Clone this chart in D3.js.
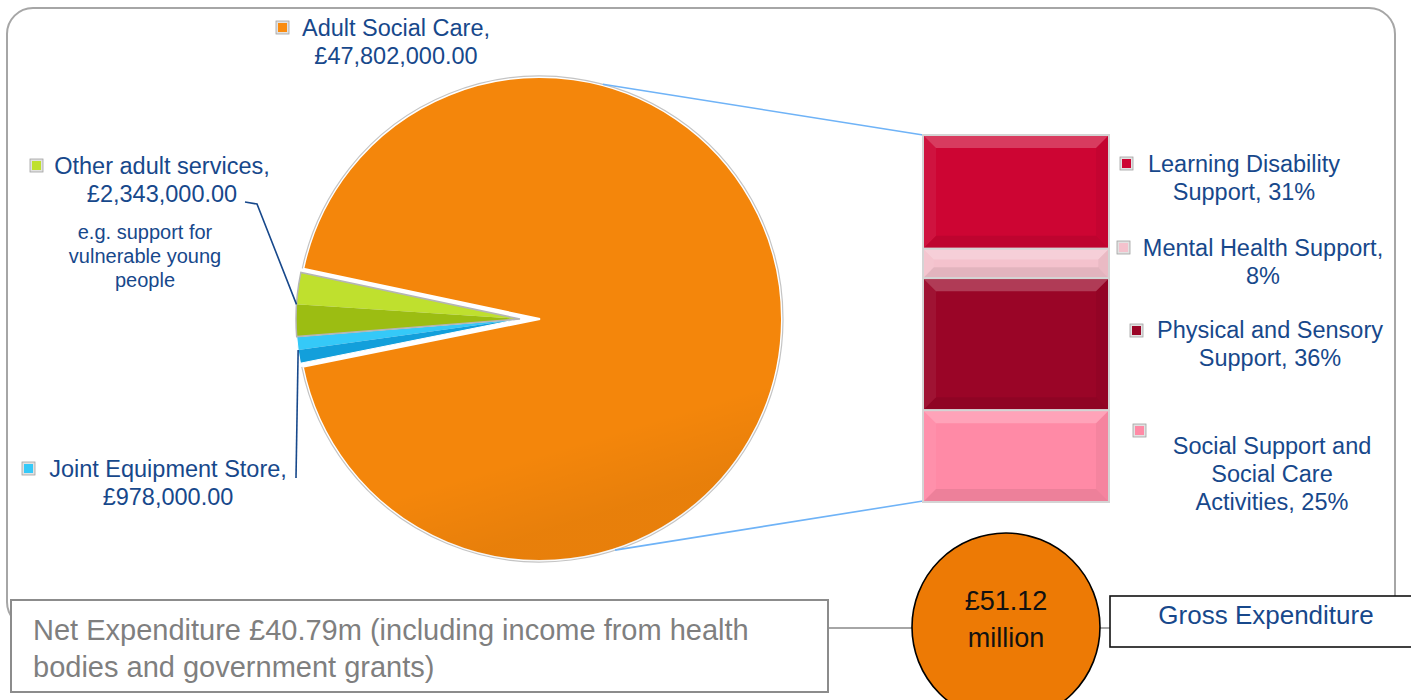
<!DOCTYPE html>
<html>
<head>
<meta charset="utf-8">
<script src="https://cdn.jsdelivr.net/npm/d3@7"></script>
<style>
  body { margin: 0; background: #fff; }
  text { font-family: "Liberation Sans", Arial, sans-serif; }
</style>
</head>
<body>
<svg id="chart" width="1411" height="700"></svg>
<script>
// pie data (drawn clockwise in this order)
var pieCats = ["Adult Social Care", "Joint Equipment Store", "Other adult services"];
var pieValues = [47802000, 978000, 2343000];
var pieNote = ["e.g. support for", "vulnerable young", "people"];

// breakdown of Adult Social Care
var barCats = ["Learning Disability Support", "Mental Health Support",
               "Physical and Sensory Support", "Social Support and Social Care Activities"];
var barShares = [31, 8, 36, 25];
var barWrap = [[2, 2], [3, 1], [3, 2], [3, 2, 2]];   // words per line

var netLines = ["Net Expenditure £40.79m (including income from health",
                "bodies and government grants)"];
var grossLabel = "Gross Expenditure";

// colours
var pieLight = ["#FA8C10", "#35C9F8", "#BFE02E"]
  , pieDark  = ["#F28208", "#129FDB", "#9CBD12"]
  , barColors = ["#CD0533", "#F4C2CD", "#9A0527", "#FF8AA6"]
  , textBlue = "#17488B";

var svg = d3.select("#chart");
var defs = svg.append("defs");

// outer frame
svg.append("rect")
    .attr("x", 7).attr("y", 8).attr("width", 1388).attr("height", 620)
    .attr("rx", 26)
    .attr("fill", "none").attr("stroke", "#a6a6a6").attr("stroke-width", 2);

// ---------- pie ----------
var cx = 540, cy = 319, r = 242;
var a0 = 282 * Math.PI / 180;
var pie = d3.pie().sort(null).startAngle(a0).endAngle(a0 + 2 * Math.PI);
var slices = pie(pieValues);

var rg = defs.append("radialGradient").attr("id", "orangeFill")
    .attr("gradientUnits", "userSpaceOnUse")
    .attr("cx", cx).attr("cy", cy).attr("r", r);
rg.append("stop").attr("offset", 0).attr("stop-color", "#FB8E12");
rg.append("stop").attr("offset", 0.9).attr("stop-color", "#FA8B0F");
rg.append("stop").attr("offset", 1).attr("stop-color", "#F4860B");

var sheen = defs.append("linearGradient").attr("id", "sheen")
    .attr("x1", 0).attr("y1", 0).attr("x2", 0.3).attr("y2", 1);
sheen.append("stop").attr("offset", 0).attr("stop-color", "#fff").attr("stop-opacity", 0.45);
sheen.append("stop").attr("offset", 0.05).attr("stop-color", "#fff").attr("stop-opacity", 0);
sheen.append("stop").attr("offset", 0.85).attr("stop-color", "#000").attr("stop-opacity", 0);
sheen.append("stop").attr("offset", 1).attr("stop-color", "#000").attr("stop-opacity", 0.05);

var gPie = svg.append("g");

// main slice
var arcMain = d3.arc().innerRadius(0).outerRadius(r);
gPie.append("path")
    .attr("transform", "translate(" + cx + "," + cy + ")")
    .attr("d", arcMain(slices[0]))
    .attr("fill", "url(#orangeFill)")
    .attr("stroke", "#fff").attr("stroke-width", 2);
gPie.append("path")
    .attr("transform", "translate(" + cx + "," + cy + ")")
    .attr("d", arcMain(slices[0]))
    .attr("fill", "url(#sheen)");
gPie.append("path")
    .attr("transform", "translate(" + cx + "," + cy + ")")
    .attr("d", d3.arc().innerRadius(r + 1).outerRadius(r + 1)
        .startAngle(slices[0].startAngle).endAngle(slices[0].endAngle)())
    .attr("fill", "none").attr("stroke", "#c4c4c4").attr("stroke-width", 1.2);

// small slices, pulled out from the centre, two-tone bevel
var sx = cx - 20, sr = r - 18;
var arcSmall = d3.arc().innerRadius(0).outerRadius(sr);
[1, 2].forEach(function(i) {
  var s = slices[i], mid = (s.startAngle + s.endAngle) / 2;
  var g = gPie.append("g").attr("transform", "translate(" + sx + "," + cy + ")");
  g.append("path").attr("d", arcSmall({startAngle: mid, endAngle: s.endAngle}))
      .attr("fill", pieLight[i]);
  g.append("path").attr("d", arcSmall({startAngle: s.startAngle, endAngle: mid}))
      .attr("fill", pieDark[i]);
  g.append("path").attr("d", arcSmall(s))
      .attr("fill", "none").attr("stroke", i == 2 ? "#b5b5b5" : "#fff")
      .attr("stroke-width", i == 2 ? 1.5 : 1);
});

// connector lines from pie to the bar
[15, 162].forEach(function(deg, k) {
  var p = d3.pointRadial(deg * Math.PI / 180, r + 1);
  svg.append("line")
      .attr("x1", cx + p[0]).attr("y1", cy + p[1])
      .attr("x2", 923).attr("y2", k == 0 ? 135 : 501)
      .attr("stroke", "#6FB3F7").attr("stroke-width", 1.6);
});

// ---------- legend markers ----------
function marker(x, y, color) {
  var g = svg.append("g").attr("transform", "translate(" + x + "," + y + ")");
  g.append("rect").attr("width", 13).attr("height", 13)
      .attr("fill", "#e2e2e2").attr("stroke", "#a0a0a0").attr("stroke-width", 0.8);
  g.append("rect").attr("x", 2).attr("y", 2).attr("width", 9).attr("height", 9)
      .attr("fill", color);
}

function label(lines, x, y, lh, size) {
  var t = svg.append("text").attr("text-anchor", "middle")
      .attr("fill", textBlue).style("font-size", size + "px");
  lines.forEach(function(l, i) {
    t.append("tspan").attr("x", x).attr("y", y + i * lh).text(l);
  });
}

var money = d3.format(",.2f");
var pieLabelPos = [
  {mx: 276, my: 21, x: 396, y: 36},
  {mx: 22, my: 462, x: 168, y: 477},
  {mx: 30, my: 159, x: 162, y: 174}
];
pieCats.forEach(function(c, i) {
  var p = pieLabelPos[i];
  marker(p.mx, p.my, pieLight[i]);
  label([c + ",", "£" + money(pieValues[i])], p.x, p.y, 28, 23.5);
});
label(pieNote, 145, 239, 24, 20);

// leader lines
(function() {
  var s = slices[2], m = (s.startAngle + s.endAngle) / 2;
  var p = d3.pointRadial(m, sr);
  svg.append("path")
      .attr("d", "M245,202 L257,204 L" + (sx + p[0]) + "," + (cy + p[1]))
      .attr("fill", "none").attr("stroke", textBlue).attr("stroke-width", 1.6);
  s = slices[1]; m = (s.startAngle + s.endAngle) / 2;
  p = d3.pointRadial(m, sr);
  svg.append("path")
      .attr("d", "M" + (sx + p[0]) + "," + (cy + p[1]) + " L296,478")
      .attr("fill", "none").attr("stroke", textBlue).attr("stroke-width", 1.6);
})();

// ---------- stacked bar ----------
var y = d3.scaleLinear().domain([0, 100]).range([135, 502]);
var bx0 = 923, bx1 = 1109;
var cum = d3.cumsum(barShares);
var gBar = svg.append("g");
barShares.forEach(function(v, i) {
  var y0 = y(cum[i] - v), y1 = y(cum[i]);
  var b = Math.min(12, (y1 - y0) / 3);
  var g = gBar.append("g");
  g.append("rect").attr("x", bx0).attr("y", y0)
      .attr("width", bx1 - bx0).attr("height", y1 - y0)
      .attr("fill", barColors[i]).attr("stroke", "#d4d4d4").attr("stroke-width", 2);
  var X0 = bx0 + 1, X1 = bx1 - 1, Y0 = y0 + 1, Y1 = y1 - 1;
  var bev = [
    [[X0, Y0], [X1, Y0], [X1 - b, Y0 + b], [X0 + b, Y0 + b], "#fff", 0.22],
    [[X0, Y0], [X0 + b, Y0 + b], [X0 + b, Y1 - b], [X0, Y1], "#fff", 0.06],
    [[X1, Y0], [X1 - b, Y0 + b], [X1 - b, Y1 - b], [X1, Y1], "#000", 0.04],
    [[X0, Y1], [X0 + b, Y1 - b], [X1 - b, Y1 - b], [X1, Y1], "#000", 0.07]
  ];
  bev.forEach(function(q) {
    g.append("polygon").attr("points", q.slice(0, 4).join(" "))
        .attr("fill", q[4]).attr("fill-opacity", q[5]);
  });
});

// bar labels
var barLabelPos = [
  {mx: 1120, my: 157, x: 1244, y: 172},
  {mx: 1117, my: 241, x: 1263, y: 256},
  {mx: 1130, my: 324, x: 1270, y: 338},
  {mx: 1133, my: 424, x: 1272, y: 454}
];
barCats.forEach(function(c, i) {
  var words = (c + ", " + barShares[i] + "%").split(" ");
  var lines = [], k = 0;
  barWrap[i].forEach(function(n) { lines.push(words.slice(k, k + n).join(" ")); k += n; });
  var p = barLabelPos[i];
  marker(p.mx, p.my, barColors[i]);
  label(lines, p.x, p.y, 28, 23.5);
});

// ---------- totals ----------
var gross = d3.sum(pieValues) / 1e6;
svg.append("line").attr("x1", 828).attr("x2", 913).attr("y1", 628).attr("y2", 628)
    .attr("stroke", "#a6a6a6").attr("stroke-width", 2);
svg.append("line").attr("x1", 1100).attr("x2", 1110).attr("y1", 628).attr("y2", 628)
    .attr("stroke", "#a6a6a6").attr("stroke-width", 2);

svg.append("rect").attr("x", 11).attr("y", 600).attr("width", 817).attr("height", 92)
    .attr("fill", "#fff").attr("stroke", "#8c8c8c").attr("stroke-width", 2);
var nt = svg.append("text").attr("fill", "#7f7f7f").style("font-size", "29px");
netLines.forEach(function(l, i) {
  nt.append("tspan").attr("x", 33).attr("y", 640 + i * 37).text(l);
});

svg.append("circle").attr("cx", 1006).attr("cy", 627).attr("r", 94)
    .attr("fill", "#ED7A05").attr("stroke", "#000").attr("stroke-width", 1.6);
var ct = svg.append("text").attr("text-anchor", "middle").attr("fill", "#111")
    .style("font-size", "27px");
["£" + d3.format(".2f")(gross), "million"].forEach(function(l, i) {
  ct.append("tspan").attr("x", 1006).attr("y", 610 + i * 37).text(l);
});

svg.append("rect").attr("x", 1110).attr("y", 596).attr("width", 320).attr("height", 51)
    .attr("fill", "#fff").attr("stroke", "#111").attr("stroke-width", 1.6);
svg.append("text").attr("x", 1266).attr("y", 624).attr("text-anchor", "middle")
    .attr("fill", textBlue).style("font-size", "26px").text(grossLabel);
</script>
</body>
</html>
